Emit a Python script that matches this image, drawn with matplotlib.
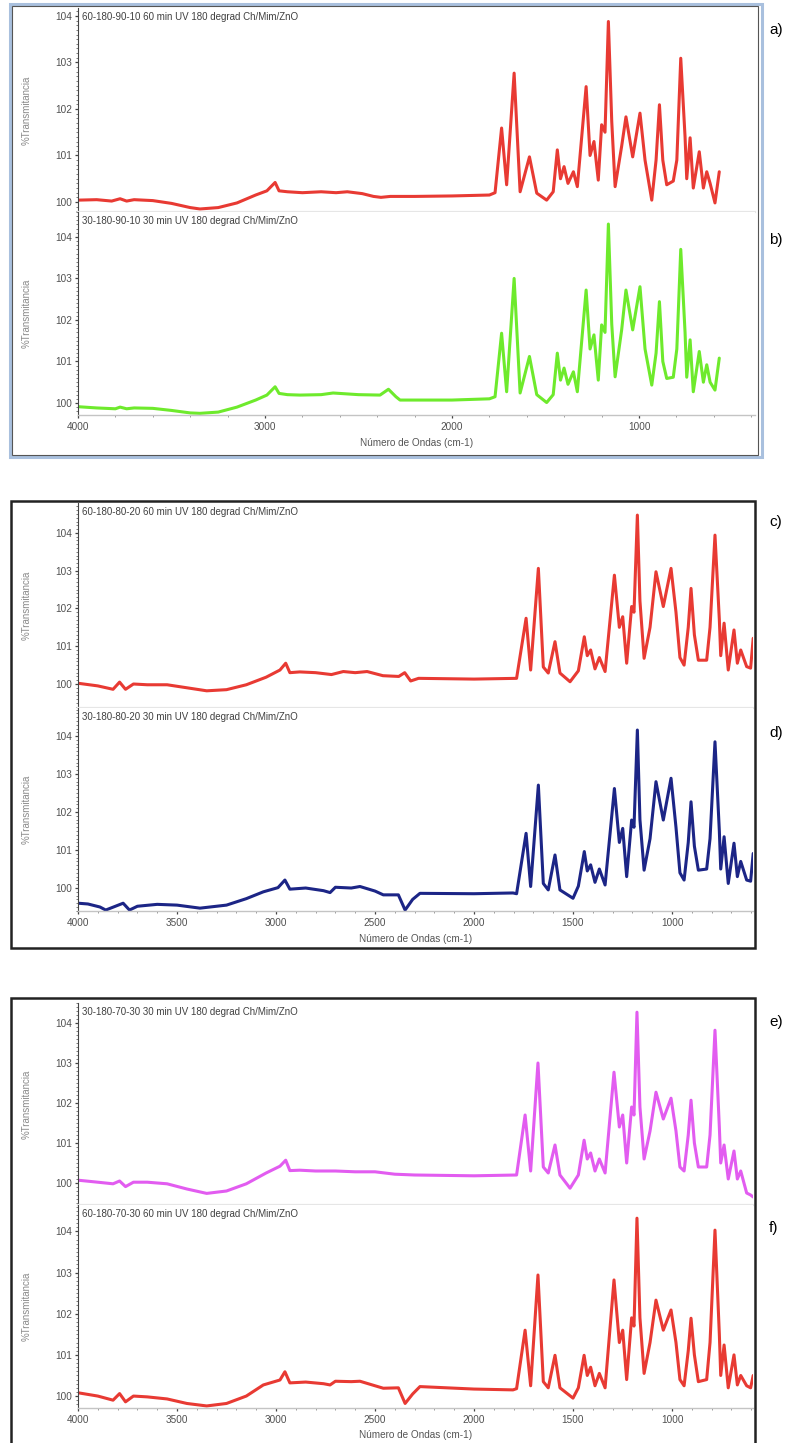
import matplotlib
matplotlib.use('Agg')  # noqa
import matplotlib.pyplot as plt
from matplotlib.patches import Rectangle
from matplotlib.ticker import MultipleLocator

plt.rcParams['font.family'] = ['Liberation Sans', 'DejaVu Sans']

W, H = 796, 1443

# ---- spectra (wavenumber cm-1, %T) ----
wn_a = [4000, 3900, 3820, 3775, 3740, 3700, 3600, 3500, 3400, 3348, 3250, 3150, 3050, 2990, 2946, 2925,
        2880, 2800, 2700, 2620, 2560, 2480, 2420, 2380, 2330, 2200, 2000, 1800, 1770, 1735, 1708, 1668,
        1636, 1586, 1547, 1494, 1459, 1437, 1420, 1401, 1380, 1351, 1330, 1283, 1262, 1241, 1218, 1200,
        1182, 1164, 1146, 1128, 1093, 1070, 1034, 995, 968, 932, 909, 891, 873, 852, 817, 798, 777, 754,
        745, 727, 710, 678, 656, 638, 620, 594, 571]
t_a = [100.04, 100.05, 100.02, 100.07, 100.02, 100.05, 100.03, 99.97, 99.88, 99.85, 99.88, 99.98, 100.15,
       100.24, 100.42, 100.24, 100.22, 100.20, 100.22, 100.20, 100.22, 100.18, 100.12, 100.10, 100.12,
       100.12, 100.13, 100.15, 100.20, 101.59, 100.37, 102.77, 100.22, 100.97, 100.19, 100.04, 100.22,
       101.12, 100.50, 100.76, 100.40, 100.65, 100.33, 102.48, 101.00, 101.30, 100.47, 101.66, 101.50,
       103.88, 101.73, 100.33, 101.20, 101.83, 100.97, 101.91, 100.90, 100.04, 100.90, 102.09, 100.90,
       100.37, 100.45, 100.90, 103.09, 101.40, 100.50, 101.38, 100.30, 101.08, 100.30, 100.65, 100.40,
       99.98, 100.65]

wn_b = [4000, 3900, 3800, 3775, 3740, 3700, 3600, 3500, 3400, 3348, 3250, 3150, 3050, 2990, 2946, 2925,
        2880, 2813, 2700, 2636, 2500, 2385, 2340, 2300, 2278, 2000, 1800, 1770, 1735, 1708, 1668, 1636,
        1586, 1547, 1494, 1459, 1437, 1420, 1401, 1380, 1351, 1330, 1283, 1262, 1241, 1218, 1200, 1182,
        1164, 1146, 1128, 1093, 1070, 1034, 995, 968, 932, 909, 891, 873, 852, 817, 798, 777, 754, 745,
        727, 710, 678, 656, 638, 620, 594, 571]
t_b = [99.91, 99.88, 99.86, 99.90, 99.86, 99.88, 99.87, 99.82, 99.76, 99.75, 99.78, 99.90, 100.07, 100.19,
       100.39, 100.23, 100.20, 100.19, 100.20, 100.24, 100.20, 100.19, 100.33, 100.15, 100.07, 100.07,
       100.10, 100.15, 101.68, 100.27, 103.00, 100.24, 101.12, 100.20, 100.01, 100.20, 101.20, 100.55,
       100.84, 100.45, 100.75, 100.27, 102.72, 101.30, 101.64, 100.55, 101.88, 101.70, 104.31, 101.90,
       100.63, 101.76, 102.72, 101.76, 102.80, 101.30, 100.43, 101.20, 102.44, 101.00, 100.59, 100.62,
       101.30, 103.70, 101.70, 100.62, 101.52, 100.27, 101.24, 100.50, 100.92, 100.50, 100.31, 101.08]

wn_c = [4000, 3900, 3823, 3790, 3760, 3720, 3650, 3550, 3450, 3350, 3250, 3150, 3050, 2980, 2951, 2930,
        2880, 2800, 2720, 2660, 2600, 2540, 2460, 2380, 2350, 2320, 2280, 2000, 1785, 1737, 1714, 1675,
        1650, 1625, 1591, 1566, 1515, 1473, 1443, 1428, 1411, 1389, 1367, 1338, 1291, 1266, 1249, 1229,
        1204, 1192, 1175, 1162, 1141, 1111, 1081, 1044, 1005, 980, 960, 939, 918, 904, 887, 867, 825, 808,
        783, 761, 754, 737, 716, 687, 670, 653, 623, 603, 590]
t_c = [100.02, 99.95, 99.86, 100.05, 99.86, 100.00, 99.98, 99.98, 99.90, 99.82, 99.85, 99.98, 100.18,
       100.37, 100.55, 100.30, 100.32, 100.30, 100.25, 100.33, 100.30, 100.33, 100.22, 100.20, 100.30,
       100.08, 100.15, 100.13, 100.15, 101.74, 100.37, 103.06, 100.45, 100.29, 101.12, 100.29, 100.06,
       100.35, 101.25, 100.75, 100.90, 100.40, 100.70, 100.33, 102.88, 101.50, 101.78, 100.55, 102.05,
       101.90, 104.47, 102.20, 100.68, 101.50, 102.97, 102.05, 103.06, 101.90, 100.70, 100.50, 101.50,
       102.53, 101.30, 100.63, 100.63, 101.50, 103.94, 101.70, 100.75, 101.61, 100.37, 101.43, 100.55,
       100.90, 100.46, 100.42, 101.21]

wn_d = [4000, 3950, 3889, 3860, 3772, 3740, 3700, 3600, 3500, 3384, 3250, 3150, 3064, 2990, 2955, 2930,
        2850, 2760, 2727, 2700, 2620, 2576, 2500, 2458, 2382, 2348, 2310, 2273, 2000, 1803, 1785, 1737,
        1714, 1675, 1650, 1625, 1591, 1566, 1500, 1473, 1443, 1428, 1411, 1389, 1367, 1338, 1291, 1266,
        1249, 1229, 1204, 1192, 1175, 1162, 1141, 1111, 1081, 1044, 1005, 980, 960, 939, 918, 904, 887,
        867, 825, 808, 783, 761, 754, 737, 716, 687, 670, 653, 623, 603, 590]
t_d = [99.60, 99.58, 99.50, 99.42, 99.60, 99.42, 99.52, 99.57, 99.55, 99.47, 99.55, 99.72, 99.90, 100.01,
       100.21, 99.97, 100.00, 99.93, 99.88, 100.02, 100.00, 100.04, 99.92, 99.82, 99.82, 99.42, 99.70,
       99.86, 99.85, 99.87, 99.85, 101.44, 100.04, 102.71, 100.12, 99.95, 100.87, 99.95, 99.73, 100.05,
       100.96, 100.45, 100.61, 100.15, 100.50, 100.08, 102.62, 101.20, 101.57, 100.30, 101.79, 101.60,
       104.16, 101.80, 100.47, 101.30, 102.80, 101.79, 102.89, 101.60, 100.40, 100.21, 101.20, 102.27,
       101.10, 100.47, 100.50, 101.30, 103.85, 101.50, 100.50, 101.35, 100.12, 101.18, 100.30, 100.70,
       100.21, 100.18, 100.91]

wn_e = [4000, 3900, 3823, 3790, 3760, 3720, 3650, 3550, 3450, 3350, 3250, 3150, 3050, 2980, 2951, 2930,
        2880, 2800, 2700, 2600, 2500, 2400, 2300, 2000, 1785, 1742, 1714, 1677, 1650, 1625, 1591, 1566,
        1515, 1473, 1444, 1428, 1411, 1389, 1367, 1338, 1293, 1266, 1249, 1229, 1204, 1192, 1177, 1162,
        1141, 1111, 1081, 1044, 1005, 980, 960, 939, 918, 904, 887, 867, 825, 808, 783, 761, 754, 737,
        716, 687, 670, 653, 623, 603, 590]
t_e = [100.07, 100.02, 99.98, 100.05, 99.91, 100.02, 100.02, 99.98, 99.85, 99.74, 99.80, 99.98, 100.25,
       100.42, 100.57, 100.31, 100.32, 100.30, 100.30, 100.28, 100.28, 100.22, 100.20, 100.18, 100.20,
       101.70, 100.30, 103.00, 100.40, 100.25, 100.95, 100.20, 99.87, 100.20, 101.07, 100.60, 100.75,
       100.30, 100.60, 100.25, 102.77, 101.40, 101.70, 100.50, 101.90, 101.70, 104.27, 101.90, 100.60,
       101.30, 102.27, 101.60, 102.12, 101.30, 100.40, 100.30, 101.20, 102.07, 101.00, 100.40, 100.40,
       101.20, 103.82, 101.40, 100.50, 100.95, 100.10, 100.80, 100.10, 100.30, 99.75, 99.70, 99.65]

wn_f = [4000, 3900, 3823, 3790, 3760, 3720, 3650, 3550, 3450, 3350, 3250, 3150, 3064, 2980, 2955, 2930,
        2850, 2760, 2727, 2700, 2620, 2576, 2500, 2458, 2382, 2348, 2310, 2273, 2000, 1803, 1785, 1742,
        1714, 1677, 1650, 1625, 1591, 1566, 1500, 1473, 1444, 1428, 1411, 1389, 1367, 1338, 1293, 1266,
        1249, 1229, 1204, 1192, 1177, 1162, 1141, 1111, 1081, 1044, 1005, 980, 960, 939, 918, 904, 887,
        867, 825, 808, 783, 761, 754, 737, 716, 687, 670, 653, 623, 603, 590]
t_f = [100.08, 100.00, 99.90, 100.06, 99.86, 100.00, 99.98, 99.93, 99.82, 99.76, 99.82, 100.00, 100.27,
       100.39, 100.59, 100.32, 100.34, 100.30, 100.27, 100.36, 100.35, 100.36, 100.25, 100.19, 100.20,
       99.82, 100.05, 100.23, 100.17, 100.15, 100.18, 101.60, 100.25, 102.94, 100.35, 100.20, 100.99,
       100.20, 99.95, 100.20, 100.99, 100.50, 100.70, 100.25, 100.55, 100.20, 102.82, 101.30, 101.60,
       100.40, 101.90, 101.70, 104.32, 101.90, 100.55, 101.30, 102.33, 101.60, 102.09, 101.30, 100.40,
       100.25, 101.10, 101.89, 101.00, 100.35, 100.40, 101.30, 104.03, 101.50, 100.50, 101.24, 100.20,
       101.00, 100.27, 100.50, 100.25, 100.20, 100.50]

titles = ['60-180-90-10 60 min UV 180 degrad Ch/Mim/ZnO',
          '30-180-90-10 30 min UV 180 degrad Ch/Mim/ZnO',
          '60-180-80-20 60 min UV 180 degrad Ch/Mim/ZnO',
          '30-180-80-20 30 min UV 180 degrad Ch/Mim/ZnO',
          '30-180-70-30 30 min UV 180 degrad Ch/Mim/ZnO',
          '60-180-70-30 60 min UV 180 degrad Ch/Mim/ZnO']
letters = ['a)', 'b)', 'c)', 'd)', 'e)', 'f)']
colors = ['#e83a33', '#6eea2c', '#e83a33', '#1c2586', '#e25cf0', '#e83a33']
yticks = [100, 101, 102, 103, 104]


def rect(x0, y0, x1, y1):
    return [x0 / W, 1 - y1 / H, (x1 - x0) / W, (y1 - y0) / H]


def panel(fig, box, xlim, ylim, wn, t, color, title, bottom, major, minor):
    x0, y0, x1, y1 = box
    ax = fig.add_axes(rect(x0, y0, x1, y1))
    ax.plot(wn, t, color=color, lw=2.2, solid_joinstyle='round', solid_capstyle='round')
    ax.set_xlim(xlim)
    ax.set_ylim(ylim)
    ax.set_yticks(yticks)
    ax.yaxis.set_minor_locator(MultipleLocator(0.1))
    ax.xaxis.set_major_locator(MultipleLocator(major))
    ax.xaxis.set_minor_locator(MultipleLocator(minor))
    for s in ['top', 'right']:
        ax.spines[s].set_visible(False)
    ax.spines['left'].set_color('#444444')
    ax.spines['left'].set_linewidth(0.8)
    ax.tick_params(axis='y', which='major', labelsize=7.2, colors='#444444',
                   labelcolor='#505050', length=2.5, width=0.9, pad=1.5)
    ax.tick_params(axis='y', which='minor', length=1.5, width=0.6, colors='#666666')
    ax.set_ylabel('%Transmitancia', fontsize=7, color='#8a8a8a')
    ax.yaxis.set_label_coords(-0.068, 0.5)
    if bottom:
        ax.spines['bottom'].set_color('#c4c4c4')
        ax.spines['bottom'].set_linewidth(1.0)
        ax.tick_params(axis='x', which='major', labelsize=7.2, colors='#444444',
                       labelcolor='#505050', length=2.5, width=0.9, pad=2.5)
        ax.tick_params(axis='x', which='minor', length=1.5, width=0.6, colors='#888888')
        ax.set_xlabel('Número de Ondas (cm-1)', fontsize=7.2, color='#555555', labelpad=4)
    else:
        ax.spines['bottom'].set_color('#e6e6e6')
        ax.spines['bottom'].set_linewidth(1.6)
        ax.tick_params(axis='x', which='both', length=0, labelbottom=False)
    ax.text(0.006, 1 - 9.0 / (y1 - y0), title, transform=ax.transAxes, fontsize=7,
            color='#404040', va='center', ha='left')
    return ax


fig = plt.figure(figsize=(W / 100, H / 100), dpi=100)

# group frames
fig.patches.append(Rectangle((10 / W, 1 - 457 / H), 752 / W, 453 / H, transform=fig.transFigure,
                             fill=False, edgecolor='#a9c0de', lw=2.2))
fig.patches.append(Rectangle((12 / W, 1 - 455 / H), 746 / W, 449 / H, transform=fig.transFigure,
                             fill=False, edgecolor='#555555', lw=0.8))
fig.patches.append(Rectangle((11 / W, 1 - 948 / H), 744 / W, 447 / H, transform=fig.transFigure,
                             fill=False, edgecolor='#222222', lw=1.8))
fig.patches.append(Rectangle((11 / W, 1 - 1446 / H), 744 / W, 448 / H, transform=fig.transFigure,
                             fill=False, edgecolor='#222222', lw=1.8))

spectra = [(wn_a, t_a), (wn_b, t_b), (wn_c, t_c), (wn_d, t_d), (wn_e, t_e), (wn_f, t_f)]
boxes = [(78, 8, 755, 212), (78, 212, 755, 415),
         (78, 503, 753, 708), (78, 708, 753, 911),
         (78, 1003, 753, 1205), (78, 1205, 753, 1408)]
ylims = [(99.785, 104.17), (99.71, 104.60),
         (99.365, 104.79), (99.395, 104.74),
         (99.45, 104.5), (99.71, 104.64)]
xlims = [(4000, 380), (4000, 380), (4000, 591), (4000, 591), (4000, 591), (4000, 591)]
majors = [1000, 1000, 500, 500, 500, 500]
minors = [200, 200, 100, 100, 100, 100]
letter_y = [30, 240, 522, 733, 1022, 1228]

for i in range(6):
    wn, t = spectra[i]
    panel(fig, boxes[i], xlims[i], ylims[i], wn, t, colors[i], titles[i],
          i % 2 == 1, majors[i], minors[i])
    fig.text(769 / W, 1 - letter_y[i] / H, letters[i], fontsize=11, va='center', ha='left')

plt.savefig('out.png', dpi=100)
